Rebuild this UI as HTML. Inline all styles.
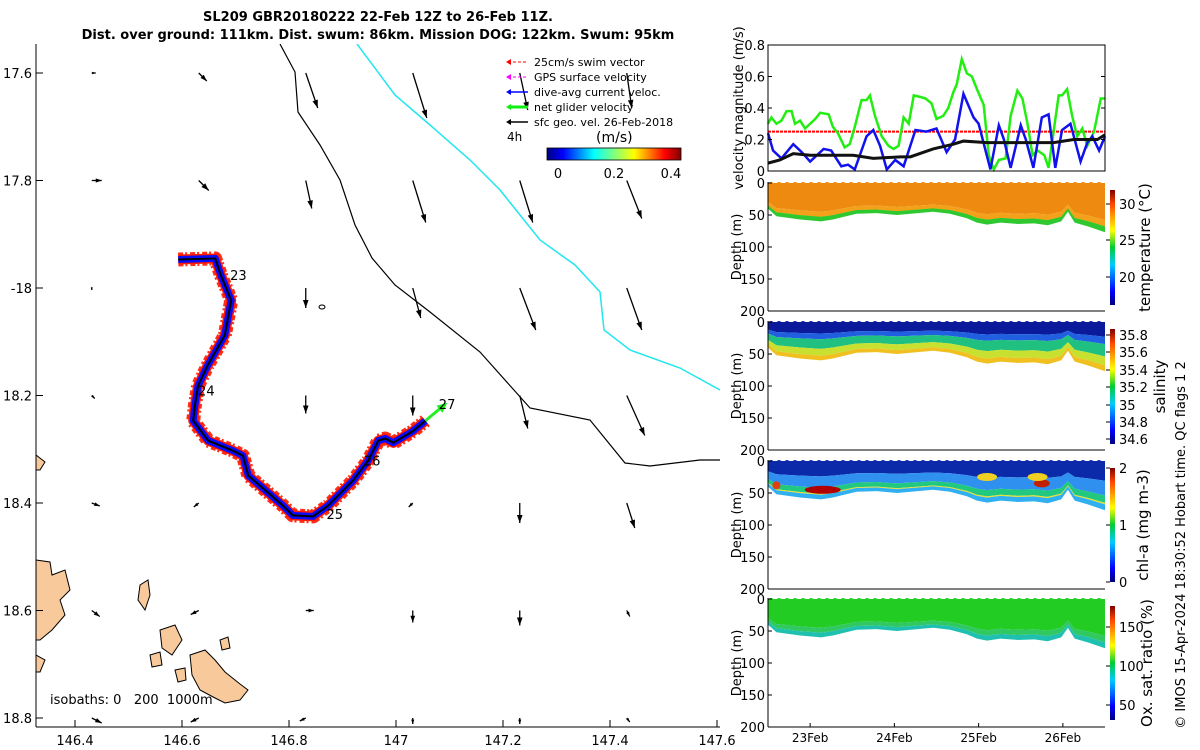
<!DOCTYPE html>
<html><head><meta charset="utf-8">
<style>
html,body{margin:0;padding:0;background:#fff;}
svg{display:block;font-family:"DejaVu Sans","Liberation Sans",sans-serif;}
</style></head>
<body>
<svg id="c" width="1200" height="750" viewBox="0 0 1200 750" xmlns="http://www.w3.org/2000/svg">
<defs>
<linearGradient id="jetH" x1="0" y1="0" x2="1" y2="0">
<stop offset="0" stop-color="#00007f"/><stop offset="0.12" stop-color="#0000ff"/><stop offset="0.35" stop-color="#00ffff"/><stop offset="0.5" stop-color="#7fff7f"/><stop offset="0.65" stop-color="#ffff00"/><stop offset="0.88" stop-color="#ff0000"/><stop offset="1" stop-color="#7f0000"/>
</linearGradient>
<linearGradient id="jetV" x1="0" y1="1" x2="0" y2="0">
<stop offset="0" stop-color="#00007f"/><stop offset="0.12" stop-color="#0000ff"/><stop offset="0.35" stop-color="#00ccff"/><stop offset="0.5" stop-color="#00cc33"/><stop offset="0.65" stop-color="#ffff00"/><stop offset="0.88" stop-color="#ff4400"/><stop offset="1" stop-color="#7f0000"/>
</linearGradient>
<clipPath id="mapclip"><rect x="36" y="44" width="684" height="683"/></clipPath>
</defs>

<g font-weight="bold" font-size="13" text-anchor="middle">
<text x="378" y="21">SL209 GBR20180222 22-Feb 12Z to 26-Feb 11Z.</text>
<text x="378" y="39">Dist. over ground: 111km. Dist. swum: 86km. Mission DOG: 122km. Swum: 95km</text>
</g>

<g id="map"></g>
<g id="vel"></g>
<g id="sec"></g>

<text font-size="13" transform="translate(1185,545) rotate(-90)" text-anchor="middle">© IMOS 15-Apr-2024 18:30:52 Hobart time. QC flags 1  2</text>
</svg>
<script>
// ---------- velocity data (days since 22-Feb 12Z, m/s) ----------
const greenT=[0,0.04,0.1,0.16,0.22,0.28,0.32,0.38,0.44,0.5,0.56,0.62,0.72,0.77,0.83,0.91,0.97,1.03,1.11,1.17,1.21,1.27,1.35,1.43,1.49,1.55,1.61,1.67,1.73,1.81,1.87,1.94,2.0,2.08,2.14,2.2,2.24,2.3,2.36,2.42,2.48,2.56,2.62,2.68,2.74,2.82,2.88,2.96,3.02,3.08,3.14,3.2,3.28,3.33,3.39,3.45,3.49,3.55,3.61,3.67,3.73,3.79,3.87,3.95,4.0];
const greenV=[0.30,0.34,0.30,0.32,0.38,0.38,0.30,0.32,0.27,0.30,0.33,0.37,0.36,0.28,0.24,0.15,0.17,0.28,0.45,0.45,0.48,0.35,0.22,0.16,0.14,0.16,0.34,0.30,0.48,0.47,0.46,0.43,0.33,0.35,0.40,0.50,0.55,0.71,0.62,0.60,0.52,0.42,0.10,0.01,0.07,0.08,0.35,0.51,0.46,0.30,0.10,0.13,0.10,0.02,0.25,0.48,0.48,0.52,0.35,0.22,0.27,0.16,0.25,0.46,0.46];
const blueT=[0,0.06,0.16,0.3,0.4,0.5,0.66,0.75,0.87,0.95,1.03,1.17,1.25,1.33,1.41,1.51,1.61,1.75,1.88,2.0,2.12,2.22,2.32,2.44,2.5,2.64,2.74,2.8,2.88,3.0,3.06,3.15,3.25,3.33,3.41,3.49,3.59,3.71,3.79,3.85,3.93,4.0];
const blueV=[0.24,0.13,0.08,0.17,0.12,0.06,0.14,0.13,0.03,0.04,0.01,0.22,0.26,0.16,0.01,0.07,0.03,0.26,0.25,0.27,0.12,0.20,0.49,0.34,0.30,0.01,0.29,0.20,0.02,0.29,0.20,0.02,0.34,0.36,0.02,0.26,0.30,0.06,0.18,0.22,0.13,0.22];
const blackT=[0,0.14,0.3,0.5,0.77,1.01,1.25,1.57,1.69,1.96,2.2,2.32,2.6,2.96,3.39,3.63,3.91,4.0];
const blackV=[0.05,0.07,0.11,0.10,0.10,0.10,0.08,0.09,0.09,0.14,0.17,0.19,0.18,0.18,0.18,0.20,0.20,0.23];
const swimV=0.25;
const velTicks=[0,0.2,0.4,0.6,0.8];
const dateTicks=[0.5,1.5,2.5,3.5];
const dateLabels=["23Feb","24Feb","25Feb","26Feb"];
const depthTicks=[0,50,100,150,200];
// bottom of profiles (m) over time
const botT=[0,0.1,0.38,0.63,0.77,1.05,1.29,1.53,1.96,2.16,2.36,2.48,2.6,2.76,2.96,3.16,3.32,3.48,3.56,3.64,3.8,4.0];
const botD=[40,52,57,60,57,48,47,50,45,48,55,62,65,62,64,63,66,60,45,62,68,77];
// map data
const lonTicks=[146.4,146.6,146.8,147,147.2,147.4,147.6];
const lonLabels=["146.4","146.6","146.8","147","147.2","147.4","147.6"];
const latTicks=[17.6,17.8,18,18.2,18.4,18.6,18.8];
const latLabels=["17.6","17.8","-18","18.2","18.4","18.6","18.8"];
const gridLon=[146.45,146.65,146.85,147.05,147.25,147.45,147.65];
const gridLat=[17.6,17.8,18.0,18.2,18.4,18.6,18.8];
const arrU=[[0.4,0.8,1.2,1.4,0.8,0.5,0.3],[1,1,0.6,1.3,1.3,1.5,0.3],[0,0,0,0.8,1.6,1.5,0.3],[0.3,0,0,0,0.8,1.8,0.2],[0.8,-0.5,0,-0.4,0,0.8,0.3],[0.8,-0.8,0.8,0,0,0.3,0],[1,-0.8,-0.6,0,0,0.3,0]];
const arrV=[[0,0.8,3.5,4.5,3.7,3.5,2.8],[0,1,2.8,4.2,4.2,3.8,1.5],[0.2,0,2,3,4.2,4.2,1.2],[0.3,0,1.8,2,3.3,4,1.8],[0.3,0.4,0,0.4,2,2.5,1.5],[0.6,0.4,0,1.2,1.5,0.6,1],[0.5,0.4,0.3,0.6,0.6,0.4,0.5]];
const trackLon=[146.593,146.662,146.673,146.692,146.680,146.648,146.630,146.624,146.621,146.649,146.696,146.714,146.724,146.789,146.807,146.845,146.873,146.920,146.948,146.967,146.980,146.995,147.032,147.055];
const trackLat=[17.947,17.945,17.977,18.023,18.088,18.144,18.182,18.219,18.247,18.284,18.303,18.312,18.349,18.405,18.423,18.425,18.405,18.358,18.321,18.284,18.280,18.288,18.266,18.247];
const dayLabels=["23","24","25","26","27"];
const dayLon=[146.69,146.63,146.87,146.94,147.08];
const dayLat=[17.985,18.2,18.43,18.33,18.225];

const NS="http://www.w3.org/2000/svg";
function mk(tag,attrs,parent){const e=document.createElementNS(NS,tag);for(const k in attrs)e.setAttribute(k,attrs[k]);parent.appendChild(e);return e;}
function txt(s,attrs,parent){const e=mk('text',attrs,parent);e.textContent=s;return e;}

// ---------- MAP ----------
const map=document.getElementById('map');
const lx=lon=>75+(lon-146.4)*535;
const ly=lat=>73+(lat-17.6)*537.5;
const mg=mk('g',{'clip-path':'url(#mapclip)'},map);
const landPolys=[
 "36,455 45,462 40,470 36,470","36,560 50,562 52,575 65,570 70,590 60,600 65,615 52,630 40,640 36,640",
 "36,655 45,660 40,672 36,672",
 "140,585 148,580 150,595 145,610 138,600","160,630 175,625 182,640 172,655 162,648",
 "190,655 205,650 215,660 225,672 240,684 248,690 240,700 225,703 215,698 200,690 192,675",
 "150,655 160,652 162,665 152,667","175,670 185,668 186,680 178,682","220,640 228,637 230,648 222,650"];
landPolys.forEach(p=>{const e=mk('polygon',{points:p,fill:'#f7c99b',stroke:'#000','stroke-width':1},mg);

});
const cy=mk('polyline',{points:"357,44 395,95 430,125 470,160 500,190 540,240 575,265 600,292 604,330 630,350 680,368 720,390",fill:'none',stroke:'#22e6f0','stroke-width':1.5},mg);


const bl=mk('polyline',{points:"280,44 295,72 298,112 320,145 340,180 355,225 372,258 395,285 430,312 480,352 530,408 590,420 625,463 650,466 700,460 720,460",fill:'none',stroke:'#000','stroke-width':1.2},mg);


mk('ellipse',{cx:322,cy:307,rx:3,ry:2,fill:'none',stroke:'#000','stroke-width':1},mg);
for(let i=0;i<gridLat.length;i++)for(let j=0;j<gridLon.length;j++){
 const x0=lx(gridLon[j])-10,y0=ly(gridLat[i]);const dx=arrU[i][j]*10,dy=arrV[i][j]*10;
 const x1=x0+dx,y1=y0+dy;const L=Math.hypot(dx,dy)||1;const ux=dx/L,uy=dy/L;const h=Math.min(8,L*0.4+2);
 const g=mk('g',{},mg);
 
 
 mk('line',{x1:x0,y1:y0,x2:x1,y2:y1,stroke:'#000','stroke-width':1.3},g);
 mk('polygon',{points:`${x1},${y1} ${x1-ux*h-uy*h*0.35},${y1-uy*h+ux*h*0.35} ${x1-ux*h+uy*h*0.35},${y1-uy*h-ux*h*0.35}`,fill:'#000'},g);
}
const tp=trackLon.map((l,i)=>lx(l)+','+ly(trackLat[i])).join(' ');
const sw=mk('polyline',{points:tp,fill:'none',stroke:'#ff1a00','stroke-width':14,'stroke-linejoin':'round','stroke-dasharray':'5 2 2 3','opacity':0.9},mg);


mk('polyline',{points:tp,fill:'none',stroke:'#ff1a00','stroke-width':10,'stroke-linejoin':'round'},mg);
const bv=mk('polyline',{points:tp,fill:'none',stroke:'#0a0aff','stroke-width':7,'stroke-linejoin':'round'},mg);


const tr=mk('polyline',{points:tp,fill:'none',stroke:'#000','stroke-width':2,'stroke-linejoin':'round'},mg);


const n=trackLon.length-1;
const ga=mk('line',{x1:lx(trackLon[n]),y1:ly(trackLat[n]),x2:lx(trackLon[n])+18,y2:ly(trackLat[n])-15,stroke:'#22ee22','stroke-width':3},mg);


mk('polygon',{points:`${lx(trackLon[n])+22},${ly(trackLat[n])-18} ${lx(trackLon[n])+11},${ly(trackLat[n])-15} ${lx(trackLon[n])+17},${ly(trackLat[n])-8}`,fill:'#22ee22'},mg);
dayLabels.forEach((s,i)=>{const t=txt(s,{x:lx(dayLon[i]),y:ly(dayLat[i]),'font-size':13},mg);

});
mk('line',{x1:36,y1:44,x2:36,y2:727,stroke:'#000','stroke-width':1},map);
mk('line',{x1:36,y1:727,x2:720,y2:727,stroke:'#000','stroke-width':1},map);
lonTicks.forEach((l,i)=>{const x=lx(l);mk('line',{x1:x,y1:727,x2:x,y2:720,stroke:'#000'},map);
const t=txt(lonLabels[i],{x:x,y:745,'font-size':13,'text-anchor':'middle'},map);

});
latTicks.forEach((l,i)=>{const y=ly(l);mk('line',{x1:36,y1:y,x2:43,y2:y,stroke:'#000'},map);
const t=txt(latLabels[i],{x:32,y:y+5,'font-size':13,'text-anchor':'end'},map);

});
const iso=txt("isobaths: 0   200  1000m",{x:50,y:704,'font-size':13,style:'white-space:pre'},map);


const leg=mk('g',{},map);


const legItems=[["25cm/s swim vector","#ff0000",1,"3 2"],["GPS surface velocity","#ff00ff",1,"3 2"],["dive-avg current veloc.","#0000ff",1.5,""],["net glider velocity","#11ee11",3,""],["sfc geo. vel. 26-Feb-2018","#000",1.5,""]];
legItems.forEach((it,i)=>{const y=62+i*15;const g=mk('g',{},leg);


mk('line',{x1:508,y1:y,x2:528,y2:y,stroke:it[1],'stroke-width':it[2],'stroke-dasharray':it[3]},g);
mk('polygon',{points:`${506},${y} ${511},${y-3} ${511},${y+3}`,fill:it[1]},g);
txt(it[0],{x:534,y:y+4,'font-size':11},g);});
txt("4h",{x:507,y:141,'font-size':12},leg);
txt("(m/s)",{x:596,y:142,'font-size':14},leg);
const cb=mk('rect',{x:547,y:148,width:134,height:12,fill:'url(#jetH)',stroke:'#000','stroke-width':0.8},leg);


[["0",558],["0.2",614],["0.4",671]].forEach(a=>txt(a[0],{x:a[1],y:178,'font-size':13,'text-anchor':'middle'},leg));

// ---------- VELOCITY PANEL ----------
const vel=document.getElementById('vel');
const X0=768,X1=1105;
const tx=t=>X0+t*(X1-X0)/4;
const vy=v=>171-v*(171-45)/0.8;
function pl(T,V,yf,attrs,parent,name){const e=mk('polyline',Object.assign({points:T.map((t,i)=>tx(t)+','+yf(V[i])).join(' '),fill:'none'},attrs),parent);

return e;}
const red=mk('line',{x1:tx(0),x2:tx(4),y1:vy(swimV),y2:vy(swimV),stroke:'#ff0000','stroke-width':2,'stroke-dasharray':'3 1'},vel);


pl(greenT,greenV,vy,{stroke:'#22ee11','stroke-width':2.5},vel,'net-velocity-line');
pl(blueT,blueV,vy,{stroke:'#1111ee','stroke-width':2.5},vel,'dive-avg-current-line');
pl(blackT,blackV,vy,{stroke:'#111','stroke-width':3},vel,'geostrophic-velocity-line');
mk('rect',{x:X0,y:45,width:X1-X0,height:126,fill:'none',stroke:'#000','stroke-width':1},vel);
velTicks.forEach(v=>{const y=vy(v);mk('line',{x1:X0,x2:X0+4,y1:y,y2:y,stroke:'#000'},vel);mk('line',{x1:X1,x2:X1-4,y1:y,y2:y,stroke:'#000'},vel);
txt(String(v),{x:X0-3,y:y+5,'font-size':13,'text-anchor':'end'},vel);});
txt("velocity magnitude (m/s)",{'font-size':13,'text-anchor':'middle',transform:'translate(743,108) rotate(-90)'},vel);

// ---------- SECTIONS ----------
const sec=document.getElementById('sec');
const panels=[
 {top:183,name:'temperature-section',bands:[[0,'#ee8a10'],[0.75,'#f3a11a'],[0.92,'#d8e020']],lowBand:'#30c830',cb:[190,305],cbTicks:[["30",204],["25",240],["20",277]],label:'temperature (°C)',lx:1150},
 {top:322,name:'salinity-section',bands:[[0,'#0a1a9a'],[0.3,'#2060e0'],[0.45,'#20c080'],[0.7,'#c8e030']],lowBand:'#f0c020',cb:[329,444],cbTicks:[["35.8",335],["35.6",352],["35.4",370],["35.2",387],["35",405],["34.8",422],["34.6",439]],label:'salinity',lx:1165},
 {top:461,name:'chlorophyll-section',bands:[[0,'#0a2aaa'],[0.4,'#3090f0'],[0.7,'#20c880'],[0.85,'#e8e030']],lowBand:'#30b0f0',cb:[468,582],cbTicks:[["2",468],["1",525],["0",582]],label:'chl-a (mg m-3)',lx:1148},
 {top:599,name:'oxygen-section',bands:[[0,'#22cc22'],[0.75,'#30c860']],lowBand:'#20c0b0',cb:[606,720],cbTicks:[["150",627],["100",666],["50",705]],label:'Ox. sat. ratio (%)',lx:1152}
];
panels.forEach(p=>{
 const g=mk('g',{},sec);
 
 
 const dy=d=>p.top+d*128/200;
 const poly=(f0,f1,col)=>{const pts=[];botT.forEach((t,i)=>pts.push(tx(t)+','+dy(botD[i]*f0)));for(let i=botT.length-1;i>=0;i--)pts.push(tx(botT[i])+','+dy(botD[i]*f1));mk('polygon',{points:pts.join(' '),fill:col},g);};
 for(let k=0;k<p.bands.length;k++){const f0=p.bands[k][0];const f1=k+1<p.bands.length?p.bands[k+1][0]:0.88;poly(f0,f1,p.bands[k][1]);}
 poly(0.88,1.0,p.lowBand);
 for(let x=X0+3;x<X1;x+=8)mk('circle',{cx:x,cy:p.top+2,r:3,fill:p.bands[0][1]},g);
 mk('line',{x1:X0,y1:p.top-1,x2:X0,y2:p.top+128,stroke:'#000'},g);
 mk('line',{x1:X0,y1:p.top+128,x2:X1,y2:p.top+128,stroke:'#000'},g);
 depthTicks.forEach(d=>{const y=dy(d);mk('line',{x1:X0,x2:X0+4,y1:y,y2:y,stroke:'#000'},g);txt(String(d),{x:X0-3,y:y+5,'font-size':13,'text-anchor':'end'},g);});
 txt("Depth (m)",{'font-size':13,'text-anchor':'middle',transform:`translate(741,${p.top+64}) rotate(-90)`},g);
 const c=mk('rect',{x:1110,y:p.cb[0],width:5,height:p.cb[1]-p.cb[0],fill:'url(#jetV)'},g);
 
 
 p.cbTicks.forEach(t=>{mk('line',{x1:1106,x2:1110,y1:t[1],y2:t[1],stroke:'#000'},g);txt(t[0],{x:1119,y:t[1]+5,'font-size':13},g);});
 txt(p.label,{'font-size':15,'text-anchor':'middle',transform:`translate(${p.lx},${(p.cb[0]+p.cb[1])/2}) rotate(-90)`},g);
});
[[0.65,45,'#b00000',18],[0.1,38,'#e04010',4],[3.25,35,'#c02000',8],[2.6,25,'#f0d020',10],[3.2,25,'#f0d020',10]].forEach(a=>{
 const e=mk('ellipse',{cx:tx(a[0]),cy:461+a[1]*0.64,rx:a[3],ry:4,fill:a[2]},sec);
 
 });
dateTicks.forEach((t,i)=>{mk('line',{x1:tx(t),x2:tx(t),y1:727,y2:723,stroke:'#000'},sec);
const e=txt(dateLabels[i],{x:tx(t),y:742,'font-size':12,'text-anchor':'middle'},sec);

});
</script>
</body></html>
